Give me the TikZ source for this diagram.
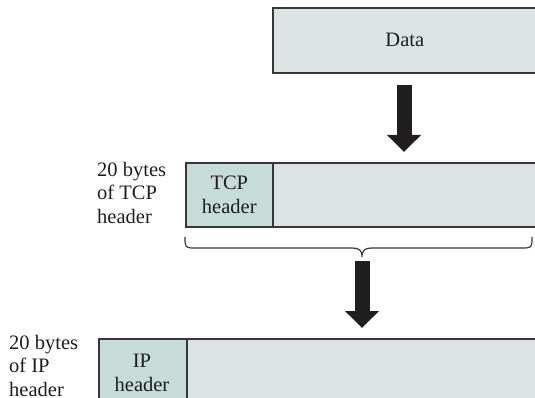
\documentclass[tikz,border=0pt]{standalone}
\usepackage{fontspec}
\setmainfont{Liberation Serif}
\usetikzlibrary{arrows.meta,calc}
\definecolor{bodyfill}{RGB}{220,227,229}
\definecolor{headfill}{RGB}{199,219,217}
\definecolor{edgecol}{RGB}{55,55,55}
\definecolor{arrowcol}{RGB}{32,30,31}
\definecolor{textcol}{RGB}{30,30,30}
\begin{document}
\begin{tikzpicture}[x=1pt,y=-1pt,
  every node/.style={font=\fontsize{20.5pt}{23.5pt}\selectfont, text=textcol},
  bodybox/.style={draw=edgecol, line width=1.6pt, fill=bodyfill, rectangle, inner sep=0pt, anchor=north west},
  headbox/.style={draw=edgecol, line width=1.6pt, fill=headfill, rectangle, inner sep=0pt, anchor=north west, align=center},
  sidelabel/.style={anchor=base west, align=left, inner sep=0pt},
  bigarrow/.style={draw=arrowcol, line width=15pt, line cap=butt, -{Triangle[width=33pt,length=17pt]}, arrowcol},
  bracestyle/.style={draw=edgecol, line width=1.2pt}]
\useasboundingbox (0,0) rectangle (535,398);
\clip (0,0) rectangle (535,398);

% Data
\node[bodybox, minimum width=264pt, minimum height=65pt] (data) at (272,7) {Data};

% TCP segment
\node[bodybox, minimum width=270pt, minimum height=64pt] (tcpbody) at (272,162) {};
\node[headbox, minimum width=87pt, minimum height=64pt] (tcphead) at (185,162) {TCP\\header};
\node[sidelabel] (tcplabel) at (97,223) {20 bytes\\of TCP\\header};

% IP datagram
\node[bodybox, minimum width=360pt, minimum height=80pt] (ipbody) at (186,338) {};
\node[headbox, minimum width=88pt, minimum height=80pt, anchor=north west] (iphead) at (98,338) {};
\node (iptext) at (142,373) [align=center] {IP\\header};
\node[sidelabel] (iplabel) at (9,396) {20 bytes\\of IP\\header};

% brace
\coordinate (bl) at (185,237);
\coordinate (br) at (532,237);
\coordinate (btip) at (362,257);
\draw[bracestyle] (bl) .. controls (185,248) .. (196,248) -- (352,248)
  .. controls (359,248) and (362,250) .. (btip)
  .. controls (362,250) and (365,248) .. (372,248) -- (521,248)
  .. controls (532,248) .. (br);

% arrows
\coordinate (a1s) at (404,85);
\coordinate (a1e) at (404,152);
\coordinate (a2s) at (362,261);
\coordinate (a2e) at (362,328);
\draw[bigarrow] (a1s) -- (a1e);
\draw[bigarrow] (a2s) -- (a2e);
\end{tikzpicture}
\end{document}
